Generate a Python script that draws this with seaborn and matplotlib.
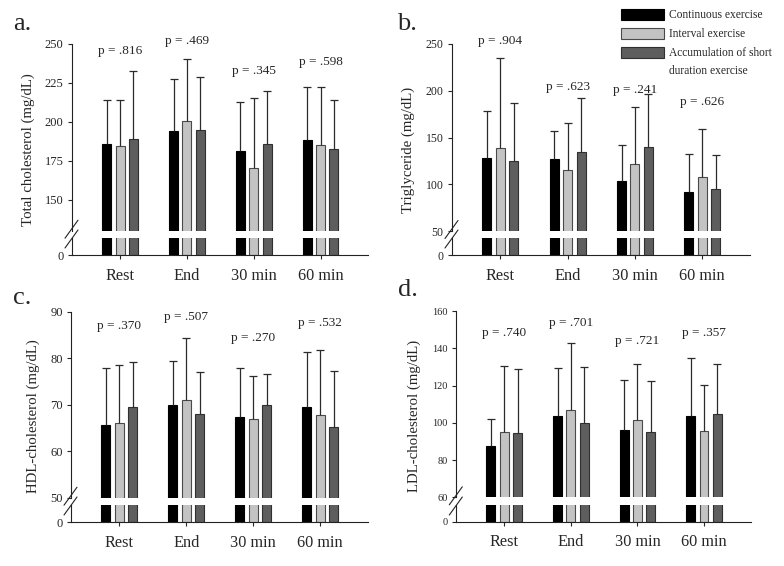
import numpy as np
import pandas as pd
import matplotlib
matplotlib.use("Agg")
import matplotlib.pyplot as plt
import seaborn as sns
from matplotlib.patches import Patch
from matplotlib.lines import Line2D

# ---- data (mean and +SD) ----
times = ["Rest", "End", "30 min", "60 min"]
groups = ["Continuous exercise", "Interval exercise", "Accumulation of short"]
colors = ["#000000", "#c3c3c3", "#5e5e5e"]
edges = ["#000000", "#4a4a4a", "#303030"]

tc_cont = [185.5, 194.1, 181.0, 188.5]
tc_int = [184.7, 200.6, 170.5, 185.3]
tc_acc = [188.7, 194.5, 186.0, 182.5]
tc_sd_cont = [28.8, 33.5, 31.4, 33.8]
tc_sd_int = [29.6, 39.5, 44.5, 37.2]
tc_sd_acc = [44.1, 34.4, 33.9, 31.8]
tc_p = [".816", ".469", ".345", ".598"]

tg_cont = [128.4, 126.6, 103.1, 91.7]
tg_int = [138.8, 115.2, 121.7, 107.8]
tg_acc = [125.2, 134.1, 139.8, 94.9]
tg_sd_cont = [49.6, 30.0, 38.9, 41.0]
tg_sd_int = [95.9, 50.0, 60.6, 50.9]
tg_sd_acc = [61.3, 57.8, 56.7, 36.4]
tg_p = [".904", ".623", ".241", ".626"]

hdl_cont = [65.6, 70.0, 67.35, 69.4]
hdl_int = [66.1, 71.0, 66.9, 67.7]
hdl_acc = [69.6, 68.1, 69.9, 65.3]
hdl_sd_cont = [12.2, 9.5, 10.65, 11.9]
hdl_sd_int = [12.4, 13.3, 9.3, 14.0]
hdl_sd_acc = [9.6, 8.9, 6.7, 12.0]
hdl_p = [".370", ".507", ".270", ".532"]

ldl_cont = [87.6, 103.9, 96.4, 103.9]
ldl_int = [94.9, 107.0, 101.4, 95.5]
ldl_acc = [94.6, 100.0, 95.1, 104.8]
ldl_sd_cont = [14.7, 25.6, 26.5, 30.8]
ldl_sd_int = [35.5, 35.8, 30.3, 24.7]
ldl_sd_acc = [34.4, 30.2, 27.6, 26.7]
ldl_p = [".740", ".701", ".721", ".357"]


def long_df(a, b, c):
    rows = []
    for g, vals in zip(groups, [a, b, c]):
        for t, v in zip(times, vals):
            rows.append({"time": t, "group": g, "value": v})
    return pd.DataFrame(rows)


sns.set_style("ticks")
plt.rcParams["font.family"] = ["Liberation Serif", "DejaVu Serif"]

W, H = 784, 566
fig = plt.figure(figsize=(7.84, 5.66), dpi=100)


def draw_panel(left, right, top, upper_bot, lower_top, lower_bot,
               df, sds, ylim, yticks, ylabel, label_xy, letter, letter_xy,
               pvals, p_y, tick_fs):
    ax = fig.add_axes([left / W, 1 - upper_bot / H, (right - left) / W,
                       (upper_bot - top) / H])
    axl = fig.add_axes([left / W, 1 - lower_bot / H, (right - left) / W,
                        (lower_bot - lower_top) / H])
    for a in (ax, axl):
        sns.barplot(data=df, x="time", y="value", hue="group", order=times,
                    hue_order=groups, palette=colors, width=0.6, gap=0.33,
                    errorbar=None, legend=False, ax=a, linewidth=0.8)
        for cont, ec in zip(a.containers, edges):
            for bar in cont:
                bar.set_edgecolor(ec)
        a.set_xlim(-0.72, 3.71)
        a.set_xlabel("")
        a.set_ylabel("")

    # one-sided error bars (upper only)
    for cont, sd in zip(ax.containers, sds):
        xs = [b.get_x() + b.get_width() / 2 for b in cont]
        hs = [b.get_height() for b in cont]
        _, caps, _ = ax.errorbar(xs, hs, yerr=[np.zeros(len(sd)), sd], fmt="none",
                                 ecolor="#2b2b2b", elinewidth=0.9, capsize=3,
                                 capthick=0.9, zorder=1)
        caps[0].set_visible(False)

    ax.set_ylim(*ylim)
    ax.set_yticks(yticks)
    ax.tick_params(axis="y", length=3, width=0.8, labelsize=tick_fs, pad=3)
    ax.tick_params(axis="x", bottom=False, labelbottom=False)
    for s in ["top", "right", "bottom"]:
        ax.spines[s].set_visible(False)
    ax.spines["left"].set_color("#222222")

    axl.set_ylim(0, 1)
    axl.set_yticks([0])
    axl.tick_params(axis="y", length=3, width=0.8, labelsize=tick_fs, pad=3)
    axl.tick_params(axis="x", length=3, width=0.8, labelsize=11.7, pad=6)
    for s in ["top", "right"]:
        axl.spines[s].set_visible(False)
    axl.spines["left"].set_color("#222222")
    axl.spines["bottom"].set_color("#222222")

    ax.set_ylabel(ylabel, fontsize=10.7)
    ax.yaxis.set_label_coords(*label_xy)

    for i, (p, y) in enumerate(zip(pvals, p_y)):
        ax.text(i, y, f"p = {p}", ha="center", va="center", fontsize=9.5)

    fig.text(letter_xy[0] / W, 1 - letter_xy[1] / H, letter, fontsize=19,
             va="baseline", ha="left")

    # axis break marks
    for yc in (upper_bot - 1.5, lower_top + 1.5):
        fig.add_artist(Line2D([(left - 7) / W, (left + 6) / W],
                              [1 - (yc + 9) / H, 1 - (yc - 9) / H],
                              color="#222222", lw=0.8))


draw_panel(72, 368, 44, 230.7, 237.5, 255.3,
           long_df(tc_cont, tc_int, tc_acc), [tc_sd_cont, tc_sd_int, tc_sd_acc],
           (130, 250), [150, 175, 200, 225, 250], "Total cholesterol (mg/dL)",
           (-0.125, 0.435), "a.", (13, 30),
           tc_p, [245.7, 252.0, 232.6, 238.2], 9)

draw_panel(452, 750, 44, 231, 237.5, 255.3,
           long_df(tg_cont, tg_int, tg_acc), [tg_sd_cont, tg_sd_int, tg_sd_acc],
           (50, 250), [50, 100, 150, 200, 250], "Triglyceride (mg/dL)",
           (-0.123, 0.435), "b.", (397, 30),
           tg_p, [253.2, 204.3, 200.8, 188.3], 8.5)

draw_panel(71, 367.7, 311.7, 497.7, 504.5, 522.3,
           long_df(hdl_cont, hdl_int, hdl_acc), [hdl_sd_cont, hdl_sd_int, hdl_sd_acc],
           (50, 90), [50, 60, 70, 80, 90], "HDL-cholesterol (mg/dL)",
           (-0.105, 0.437), "c.", (13, 304),
           hdl_p, [86.9, 88.8, 84.4, 87.5], 9)

draw_panel(456.3, 751.3, 311.3, 497.3, 504.5, 521.7,
           long_df(ldl_cont, ldl_int, ldl_acc), [ldl_sd_cont, ldl_sd_int, ldl_sd_acc],
           (60, 160), [60, 80, 100, 120, 140, 160], "LDL-cholesterol (mg/dL)",
           (-0.119, 0.436), "d.", (398, 296),
           ldl_p, [148.2, 153.9, 144.2, 148.2], 7.5)

handles = [Patch(facecolor=c, edgecolor=e, linewidth=0.8) for c, e in zip(colors, edges)]
fig.legend(handles, groups, loc="upper left", bbox_to_anchor=(621 / W, 1 - 9 / H),
           frameon=False, fontsize=8.3, handlelength=3.7, handleheight=1.1,
           handletextpad=0.45, labelspacing=0.55, borderpad=0, borderaxespad=0)
fig.text(669 / W, 1 - 71 / H, "duration exercise", fontsize=8.3, va="center", ha="left")

fig.savefig("out.png", dpi=100)
